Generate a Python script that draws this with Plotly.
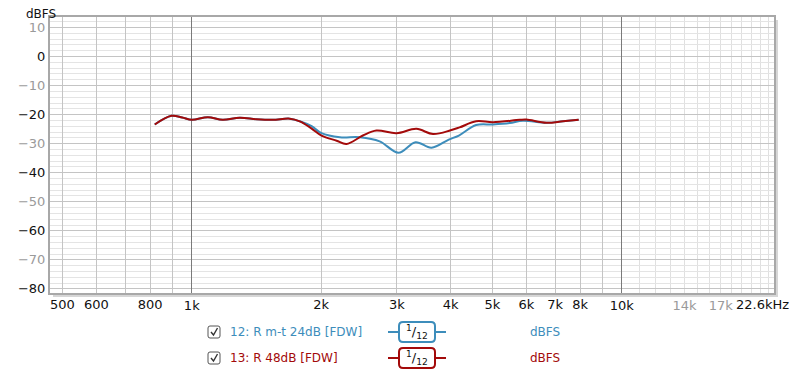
import plotly.graph_objects as go
import math

# ---- data ----
red_freq = [820, 897, 950, 1000, 1090, 1180, 1293, 1414, 1543, 1690, 1783, 1900, 2003, 2172, 2290,
            2500, 2688, 2993, 3330, 3640, 4000, 4196, 4585, 5020, 5790, 6000, 6680, 7300, 7940]
red_db = [-23.4, -20.4, -21.0, -21.8, -20.9, -21.8, -21.1, -21.6, -21.8, -21.4, -22.3, -24.8, -27.2, -29.0, -30.1,
          -27.2, -25.5, -26.4, -24.9, -26.7, -25.4, -24.4, -22.3, -22.6, -21.8, -21.7, -22.8, -22.3, -21.8]

blue_freq = [820, 897, 950, 1000, 1090, 1180, 1293, 1414, 1543, 1690, 1783, 1900, 2003, 2210, 2460,
             2735, 3025, 3315, 3610, 3960, 4180, 4585, 5020, 5490, 5890, 6680, 7300, 7940]
blue_db = [-23.4, -20.4, -21.0, -21.8, -20.9, -21.8, -21.1, -21.6, -21.8, -21.4, -22.3, -24.0, -26.4, -27.8, -27.8,
           -29.2, -33.1, -29.5, -31.4, -28.6, -27.2, -23.6, -23.4, -22.9, -22.1, -22.8, -22.3, -21.8]

series_names = ["12: R m-t 24dB [FDW]", "13: R 48dB [FDW]"]
series_units = ["dBFS", "dBFS"]
smoothing = "<sup>1</sup>/<sub>12</sub>"

x_major = [500, 600, 700, 800, 900, 2000, 3000, 4000, 5000, 6000, 7000, 8000, 9000]
x_major_text = ["500", "600", " ", "800", " ", "2k", "3k", "4k", "5k", "6k", "7k", "8k", " "]
x_dark = [1000, 10000]
x_dark_text = ["1k", "10k"]
x_light = [11000, 12000, 13000, 14000, 15000, 16000, 17000, 18000, 19000, 20000, 21000, 22000]
x_grey_labels = [14000, 17000]
x_grey_text = ["14k", "17k"]
x_min, x_max = 468, 22600

y_ticks = [10, 0, -10, -20, -30, -40, -50, -60, -70, -80]
y_min, y_max = -81.4, 13.6

BLUE = "#3d8dbb"
RED = "#a30a0a"
GREY_TXT = "#9a9a9a"
FONT = "DejaVu Sans"

# ---- geometry (screen pixels; page body has an 8px margin) ----
OFF = 8
L, R, T, B = 50, 774, 17, 293
W, H = R - L, B - T
def xp(px): return (px - L) / W
def yp(py): return (B - py) / H

fig = go.Figure()
fig.add_trace(go.Scatter(x=blue_freq, y=blue_db, mode="lines", line=dict(color=BLUE, width=2, shape="spline"),
                         name=series_names[0], showlegend=False, hoverinfo="skip"))
fig.add_trace(go.Scatter(x=red_freq, y=red_db, mode="lines", line=dict(color=RED, width=2, shape="spline"),
                         name=series_names[1], showlegend=False, hoverinfo="skip"))
# invisible carriers so the overlay axes are drawn
fig.add_trace(go.Scatter(x=x_dark, y=[None, None], mode="lines", xaxis="x2", yaxis="y",
                         showlegend=False, hoverinfo="skip"))
fig.add_trace(go.Scatter(x=x_grey_labels, y=[None, None], mode="lines", xaxis="x3", yaxis="y",
                         showlegend=False, hoverinfo="skip"))

ytext = []
for v in y_ticks:
    s = str(v).replace("-", "\u2212")
    if v % 20 != 0:
        s = f'<span style="color:{GREY_TXT}">{s}</span>'
    ytext.append(s)

xr = [math.log10(x_min), math.log10(x_max)]

fig.update_layout(
    width=800 - OFF, height=375 - OFF,
    margin=dict(l=L - OFF, r=800 - R, t=T - OFF, b=375 - B, autoexpand=False),
    paper_bgcolor="white", plot_bgcolor="white",
    font=dict(family=FONT, size=13, color="#111"),
    xaxis=dict(type="log", range=xr, tickvals=x_major, ticktext=x_major_text, showgrid=True,
               gridcolor="#c4c4c4", gridwidth=1, ticks="", zeroline=False,
               showline=True, mirror=True, linecolor="#a8a8a8", linewidth=2,
               minor=dict(tickvals=x_light, showgrid=True, gridcolor="#e0e0e0", ticks=""),
               ticklabelstandoff=-2,
               tickfont=dict(size=13, color="#111")),
    xaxis2=dict(type="log", range=xr, overlaying="x", anchor="y", side="bottom",
                tickvals=x_dark, ticktext=x_dark_text, showgrid=True, gridcolor="#7a7a7a",
                ticks="", zeroline=False, showline=False, ticklabelstandoff=3,
                tickfont=dict(size=13, color="#111")),
    xaxis3=dict(type="log", range=xr, overlaying="x", anchor="y", side="bottom",
                tickvals=x_grey_labels, ticktext=x_grey_text, showgrid=False,
                ticks="", zeroline=False, showline=False, ticklabelstandoff=3,
                tickfont=dict(size=13, color=GREY_TXT)),
    yaxis=dict(range=[y_min, y_max], tickvals=y_ticks, ticktext=ytext, showgrid=True,
               gridcolor="#c4c4c4", zeroline=False, ticks="",
               showline=True, mirror=True, linecolor="#a8a8a8", linewidth=2,
               minor=dict(dtick=2, showgrid=True, gridcolor="#e4e4e4", ticks=""),
               tickfont=dict(size=13, color="#111")),
)

shapes = []
# frame shadow strips
shapes.append(dict(type="rect", xref="paper", yref="paper", x0=xp(775), x1=xp(778), y0=yp(296), y1=yp(20),
                   fillcolor="#d6d6d6", line=dict(width=0), layer="below"))
shapes.append(dict(type="rect", xref="paper", yref="paper", x0=xp(53), x1=xp(778), y0=yp(297), y1=yp(294),
                   fillcolor="#d6d6d6", line=dict(width=0), layer="below"))

def rrect_path(x0, y0, x1, y1, r):
    X = lambda v: xp(v); Y = lambda v: yp(v)
    return (f"M {X(x0+r)},{Y(y0)} L {X(x1-r)},{Y(y0)} Q {X(x1)},{Y(y0)} {X(x1)},{Y(y0+r)} "
            f"L {X(x1)},{Y(y1-r)} Q {X(x1)},{Y(y1)} {X(x1-r)},{Y(y1)} "
            f"L {X(x0+r)},{Y(y1)} Q {X(x0)},{Y(y1)} {X(x0)},{Y(y1-r)} "
            f"L {X(x0)},{Y(y0+r)} Q {X(x0)},{Y(y0)} {X(x0+r)},{Y(y0)} Z")

annotations = []
annotations.append(dict(text="dBFS", xref="paper", yref="paper", x=xp(41), y=yp(14),
                        xanchor="center", yanchor="middle", showarrow=False,
                        font=dict(size=12, color="#111")))
annotations.append(dict(text="22.6kHz", xref="paper", yref="paper", x=xp(791), y=yp(304),
                        xanchor="right", yanchor="middle", showarrow=False,
                        font=dict(size=13, color="#111")))

rows = [332, 358]
colors = [BLUE, RED]
for i, ry in enumerate(rows):
    c = colors[i]
    shapes.append(dict(type="path", xref="paper", yref="paper", path=rrect_path(208, ry - 6, 220, ry + 6, 2),
                       line=dict(color="#555", width=1), fillcolor="white"))
    shapes.append(dict(type="path", xref="paper", yref="paper",
                       path=f"M {xp(211)},{yp(ry)} L {xp(213.5)},{yp(ry+3)} L {xp(217.5)},{yp(ry-4)}",
                       line=dict(color="#333", width=1.4)))
    annotations.append(dict(text=series_names[i], xref="paper", yref="paper", x=xp(228), y=yp(ry),
                            xanchor="left", yanchor="middle", showarrow=False,
                            font=dict(size=12, color=c)))
    shapes.append(dict(type="line", xref="paper", yref="paper", x0=xp(388), x1=xp(446), y0=yp(ry), y1=yp(ry),
                       line=dict(color=c, width=2)))
    shapes.append(dict(type="path", xref="paper", yref="paper", path=rrect_path(399, ry - 10, 435, ry + 10, 4),
                       line=dict(color=c, width=2), fillcolor="white"))
    annotations.append(dict(text=smoothing, xref="paper", yref="paper", x=xp(417), y=yp(ry),
                            xanchor="center", yanchor="middle", showarrow=False,
                            font=dict(size=13, color="#111")))
    annotations.append(dict(text=series_units[i], xref="paper", yref="paper", x=xp(528), y=yp(ry),
                            xanchor="left", yanchor="middle", showarrow=False,
                            font=dict(size=12, color=c)))

fig.update_layout(shapes=shapes, annotations=annotations)
fig.write_html("out.html")
